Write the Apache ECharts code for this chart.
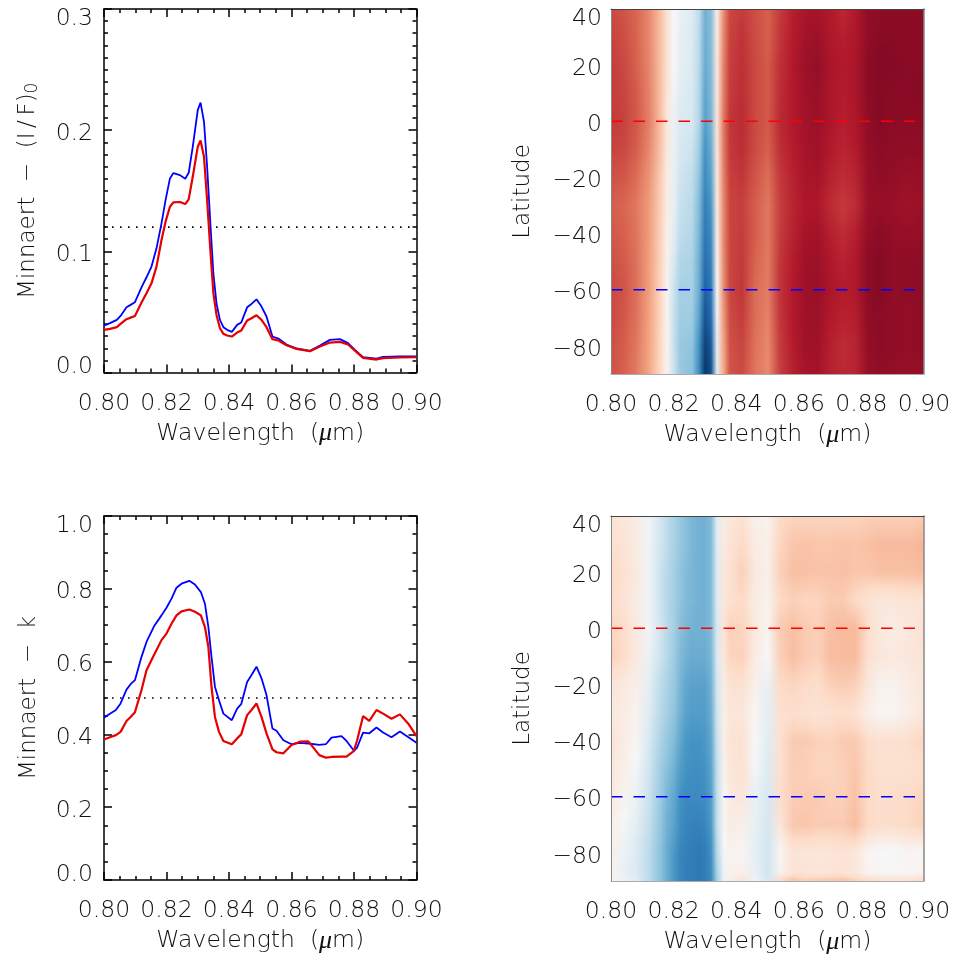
<!DOCTYPE html>
<html>
<head>
<meta charset="utf-8">
<title>Minnaert parameters</title>
<script src="https://cdn.jsdelivr.net/npm/echarts@6/dist/echarts.min.js"></script>
<style>
  html, body { margin: 0; padding: 0; background: #fff; }
  #chart { width: 954px; height: 956px; }
</style>
</head>
<body>
<div id="chart"></div>
<script>
// ---- tick labels
const wavelengthTicks = [0.80, 0.82, 0.84, 0.86, 0.88, 0.90];
const latitudeTicks = [-80, -60, -40, -20, 0, 20, 40];

// ---- line panel, top: (I/F)0 at latitude 0 (red) and -60 (blue)
const fluxWave = [.8000,.8019,.8041,.8053,.8072,.8085,.8099,.8120,.8136,.8152,.8168,.8184,.8197,.8211,.8222,.8243,.8260,.8271,.8284,.8300,.8309,.8320,.8330,.8341,.8350,.8360,.8371,.8382,.8394,.8409,.8426,.8439,.8458,.8472,.8488,.8504,.8520,.8539,.8558,.8584,.8616,.8659,.8691,.8723,.8755,.8781,.8803,.8829,.8872,.8893,.8947,.9000];
const fluxSouth = [.0387,.0407,.0434,.0467,.0538,.0558,.0580,.0703,.0786,.0874,.1025,.1231,.1423,.1602,.1646,.1629,.1599,.1648,.1863,.2165,.2228,.2069,.1698,.1203,.0819,.0571,.0434,.0374,.0352,.0335,.0393,.0412,.0538,.0566,.0604,.0544,.0462,.0297,.0280,.0231,.0198,.0179,.0223,.0269,.0275,.0242,.0187,.0126,.0115,.0129,.0132,.0132];
const fluxEquator = [.0352,.0360,.0374,.0401,.0440,.0453,.0467,.0577,.0654,.0736,.0874,.1093,.1245,.1368,.1404,.1407,.1390,.1429,.1615,.1863,.1915,.1780,.1423,.0984,.0654,.0475,.0365,.0319,.0305,.0297,.0330,.0346,.0429,.0448,.0473,.0434,.0374,.0275,.0264,.0225,.0195,.0176,.0214,.0247,.0253,.0231,.0181,.0121,.0107,.0118,.0124,.0126];
const fluxRefLevel = 0.12;

// ---- line panel, bottom: k at latitude 0 (red) and -60 (blue)
const kWave = [.8000,.8019,.8038,.8053,.8072,.8085,.8099,.8120,.8136,.8160,.8184,.8200,.8216,.8232,.8248,.8273,.8291,.8310,.8323,.8334,.8344,.8355,.8368,.8382,.8409,.8426,.8439,.8458,.8472,.8488,.8504,.8520,.8539,.8552,.8574,.8600,.8627,.8654,.8689,.8710,.8728,.8760,.8776,.8800,.8810,.8829,.8849,.8872,.8893,.8920,.8947,.8973,.9000];
const kSouth = [.446,.457,.467,.485,.523,.538,.549,.613,.654,.697,.727,.748,.773,.803,.814,.822,.812,.791,.759,.695,.613,.531,.494,.457,.439,.471,.483,.544,.563,.586,.554,.508,.416,.410,.384,.373,.377,.375,.371,.373,.391,.395,.382,.355,.364,.405,.403,.419,.405,.392,.408,.393,.377];
const kEquator = [.386,.392,.398,.407,.437,.448,.461,.522,.576,.618,.659,.677,.704,.727,.738,.743,.737,.727,.695,.640,.531,.448,.407,.382,.373,.389,.400,.453,.467,.485,.448,.403,.359,.351,.348,.371,.380,.381,.343,.336,.338,.339,.339,.355,.384,.450,.437,.467,.457,.443,.455,.430,.395];
const kRefLevel = 0.5;

// ---- map panels: values at these wavelengths / latitudes
const mapWave = [.800,.804,.808,.812,.816,.818,.820,.822,.824,.826,.828,.830,.832,.834,.836,.838,.842,.846,.850,.854,.858,.862,.866,.870,.874,.878,.882,.886,.890,.895,.900];
const mapLat = [40, 30, 20, 10, 0, -10, -20, -30, -40, -50, -60, -70, -80, -87, -90];

const fluxLat40 = [.040,.044,.050,.062,.085,.102,.120,.129,.132,.136,.150,.178,.172,.112,.062,.040,.036,.042,.048,.036,.026,.021,.020,.024,.029,.024,.013,.012,.012,.012,.012];
const fluxLat30 = [.038,.042,.049,.062,.085,.102,.120,.130,.133,.137,.152,.179,.172,.110,.060,.038,.033,.041,.048,.034,.025,.019,.017,.023,.026,.023,.013,.011,.011,.012,.012];
const fluxLat20 = [.036,.040,.048,.061,.085,.102,.121,.131,.134,.138,.153,.180,.173,.108,.058,.037,.032,.040,.046,.032,.024,.017,.015,.021,.024,.022,.012,.009,.010,.011,.011];
const fluxLat10 = [.036,.039,.046,.060,.085,.104,.124,.134,.137,.139,.154,.183,.174,.107,.057,.036,.031,.040,.046,.031,.024,.018,.016,.022,.025,.022,.012,.010,.011,.011,.010];
const fluxLat0 = [.035,.038,.045,.059,.085,.106,.128,.138,.139,.140,.156,.186,.176,.105,.055,.034,.030,.040,.046,.030,.024,.019,.017,.022,.026,.023,.013,.010,.012,.012,.012];
const fluxLatS10 = [.038,.040,.047,.062,.087,.107,.128,.140,.143,.146,.162,.192,.180,.106,.056,.035,.031,.041,.048,.032,.025,.020,.018,.024,.028,.025,.014,.012,.013,.013,.013];
const fluxLatS20 = [.043,.045,.052,.066,.090,.110,.130,.144,.147,.150,.168,.197,.185,.108,.058,.037,.034,.044,.053,.035,.027,.021,.020,.027,.031,.028,.015,.013,.014,.016,.015];
const fluxLatS30 = [.047,.050,.056,.069,.092,.111,.130,.147,.150,.153,.172,.203,.190,.110,.060,.039,.037,.047,.056,.037,.028,.023,.023,.030,.035,.031,.016,.015,.016,.018,.016];
const fluxLatS40 = [.045,.048,.055,.069,.093,.113,.134,.150,.153,.155,.175,.207,.196,.113,.060,.039,.036,.047,.056,.036,.027,.020,.019,.026,.031,.026,.014,.012,.014,.015,.014];
const fluxLatS50 = [.042,.046,.054,.070,.094,.114,.140,.155,.157,.158,.178,.212,.201,.116,.061,.039,.035,.049,.057,.034,.025,.018,.017,.023,.027,.024,.012,.010,.013,.013,.012];
const fluxLatS60 = [.040,.044,.053,.070,.095,.117,.147,.160,.160,.160,.180,.218,.207,.120,.062,.040,.034,.052,.058,.033,.024,.017,.016,.022,.025,.024,.012,.010,.013,.013,.012];
const fluxLatS70 = [.040,.045,.054,.071,.095,.116,.148,.162,.162,.163,.185,.225,.214,.125,.066,.041,.036,.052,.060,.034,.024,.018,.017,.024,.027,.026,.013,.012,.013,.014,.013];
const fluxLatS80 = [.042,.047,.056,.072,.096,.116,.148,.165,.167,.168,.192,.233,.222,.130,.070,.043,.039,.054,.062,.036,.025,.018,.018,.026,.031,.028,.014,.012,.013,.014,.013];
const fluxLatS87 = [.043,.048,.057,.073,.097,.116,.146,.165,.168,.170,.195,.236,.226,.132,.072,.044,.040,.055,.063,.037,.026,.020,.019,.027,.030,.028,.015,.013,.014,.015,.014];
const fluxLatS90 = [.043,.048,.057,.073,.097,.116,.146,.164,.168,.170,.195,.236,.226,.132,.072,.044,.040,.055,.062,.037,.026,.020,.019,.026,.029,.028,.015,.013,.014,.015,.014];
const fluxRows = [fluxLat40, fluxLat30, fluxLat20, fluxLat10, fluxLat0, fluxLatS10, fluxLatS20, fluxLatS30, fluxLatS40, fluxLatS50, fluxLatS60, fluxLatS70, fluxLatS80, fluxLatS87, fluxLatS90];

const kLat40 = [.43,.44,.46,.52,.60,.63,.66,.69,.71,.73,.74,.74,.72,.56,.46,.44,.42,.47,.48,.40,.39,.39,.39,.39,.39,.39,.38,.38,.38,.38,.37];
const kLat30 = [.42,.43,.46,.52,.60,.63,.66,.69,.71,.73,.74,.74,.72,.56,.45,.43,.40,.46,.47,.39,.36,.355,.36,.36,.355,.36,.35,.34,.34,.34,.33];
const kLat20 = [.40,.42,.45,.52,.61,.64,.67,.70,.72,.73,.74,.74,.72,.56,.44,.42,.38,.45,.47,.38,.35,.35,.355,.355,.35,.36,.36,.35,.35,.35,.34];
const kLat10 = [.41,.43,.46,.52,.61,.64,.67,.70,.72,.73,.74,.74,.72,.56,.44,.42,.40,.46,.48,.40,.38,.39,.39,.37,.37,.40,.43,.44,.44,.43,.43];
const kLat0 = [.39,.41,.45,.52,.60,.64,.67,.71,.73,.74,.74,.74,.72,.58,.43,.38,.39,.45,.485,.37,.35,.37,.38,.35,.34,.34,.41,.45,.46,.45,.42];
const kLatS10 = [.38,.41,.45,.53,.61,.64,.68,.72,.74,.75,.75,.75,.73,.57,.44,.39,.38,.46,.50,.38,.345,.37,.38,.345,.34,.34,.42,.44,.45,.44,.43];
const kLatS20 = [.43,.45,.47,.55,.63,.66,.69,.73,.76,.77,.77,.77,.74,.59,.46,.42,.42,.47,.54,.40,.39,.40,.41,.38,.37,.38,.44,.48,.48,.46,.44];
const kLatS30 = [.45,.46,.48,.56,.64,.67,.70,.74,.77,.78,.78,.78,.75,.60,.47,.44,.44,.49,.55,.42,.41,.42,.43,.42,.41,.42,.47,.49,.49,.47,.44];
const kLatS40 = [.43,.46,.49,.58,.66,.69,.72,.76,.79,.80,.80,.79,.76,.61,.47,.43,.42,.50,.56,.42,.37,.37,.38,.385,.37,.37,.41,.42,.42,.41,.39];
const kLatS50 = [.44,.47,.51,.60,.68,.71,.74,.78,.80,.81,.81,.80,.77,.62,.48,.44,.42,.51,.57,.42,.375,.38,.39,.39,.38,.36,.40,.42,.42,.42,.41];
const kLatS60 = [.45,.48,.53,.61,.69,.73,.76,.80,.82,.82,.82,.81,.78,.62,.49,.45,.44,.54,.58,.41,.375,.37,.37,.38,.38,.355,.40,.41,.41,.40,.39];
const kLatS70 = [.47,.51,.55,.62,.70,.74,.77,.81,.83,.84,.84,.83,.79,.62,.49,.46,.47,.54,.59,.44,.365,.36,.37,.37,.37,.345,.40,.41,.41,.40,.38];
const kLatS80 = [.47,.53,.57,.63,.71,.75,.79,.83,.84,.85,.86,.85,.81,.64,.51,.48,.49,.55,.60,.49,.43,.44,.44,.44,.43,.44,.49,.50,.51,.49,.50];
const kLatS87 = [.49,.54,.57,.63,.71,.75,.79,.83,.85,.85,.86,.85,.82,.66,.52,.48,.47,.54,.60,.48,.43,.43,.44,.43,.43,.44,.49,.49,.50,.49,.48];
const kLatS90 = [.47,.52,.56,.63,.71,.75,.79,.83,.85,.85,.86,.85,.82,.67,.52,.46,.43,.52,.58,.40,.35,.38,.36,.36,.35,.38,.40,.42,.42,.42,.40];
const kRows = [kLat40, kLat30, kLat20, kLat10, kLat0, kLatS10, kLatS20, kLatS30, kLatS40, kLatS50, kLatS60, kLatS70, kLatS80, kLatS87, kLatS90];

// latitudes marked on the maps
const markWave = [0.80, 0.8975];
const equatorLat = [0, 0];
const southLat = [-60, -60];

// diverging colour table, red (low) to blue (high)
const rdBu = [[103,0,31],[178,24,43],[214,96,77],[244,165,130],[253,219,199],[247,247,247],[209,229,240],[146,197,222],[67,147,195],[33,102,172],[5,48,97]];

function rampColor(v, lo, hi) {
    let t = Math.max(0, Math.min(0.9999, (v - lo) / (hi - lo))) * (rdBu.length - 1);
    let i = Math.floor(t), f = t - i;
    let c = rdBu[i].map((a, n) => Math.round(a + (rdBu[i + 1][n] - a) * f));
    return 'rgb(' + c.join(',') + ')';
}

const FONT = 'DejaVu Sans';
const textStyle = { fontFamily: FONT, fontWeight: 200, fontSize: 23.5, color: '#111' };

// rich styles keep tick labels a little below their tick, end labels inside the frame
const tickRich = {
    mid: Object.assign({}, textStyle, { padding: [7, 0, 0, 0] }),
    top: Object.assign({}, textStyle, { lineHeight: 16, padding: [4, 0, 0, 0] }),
    bot: Object.assign({}, textStyle, { lineHeight: 11 })
};

const grids = [
    { left: 104, top: 9, width: 312.5, height: 363.5 },
    { left: 611, top: 9, width: 313, height: 365 },
    { left: 104, top: 516, width: 312.5, height: 364 },
    { left: 611, top: 516, width: 313, height: 365 }
];

function wavelengthAxis(gridIndex, isMap) {
    return {
        type: 'value', gridIndex: gridIndex, min: 0.8, max: 0.9, interval: 0.02,
        position: 'bottom', z: 5,
        name: 'Wavelength  ({mu|μ}m)', nameLocation: 'middle', nameGap: 48,
        nameTextStyle: Object.assign({}, textStyle, { rich: { mu: Object.assign({}, textStyle, { fontFamily: 'Liberation Serif', fontWeight: 400, fontStyle: 'italic', fontSize: 26 }) } }),
        axisLine: { show: true, onZero: false, lineStyle: { color: isMap ? '#aaa' : '#000', width: isMap ? 1 : 1.5 } },
        axisTick: { show: !isMap, inside: true, length: 8, lineStyle: { color: '#000', width: 1.5 } },
        minorTick: { show: !isMap, splitNumber: 4, length: 4, lineStyle: { color: '#000', width: 1.5 } },
        splitLine: { show: false },
        axisLabel: Object.assign({}, textStyle, { margin: 19, hideOverlap: false, formatter: v => wavelengthTicks[Math.round((v - 0.8) / 0.02)].toFixed(2) })
    };
}

function topAxis(gridIndex, isMap) {
    return {
        type: 'value', gridIndex: gridIndex, min: 0.8, max: 0.9, interval: 0.02,
        position: 'top', z: 5,
        axisLine: { show: true, onZero: false, lineStyle: { color: isMap ? '#444' : '#000', width: isMap ? 1 : 1.5 } },
        axisTick: { show: !isMap, inside: true, length: 8, lineStyle: { color: '#000', width: 1.5 } },
        minorTick: { show: !isMap, splitNumber: 4, length: 4, lineStyle: { color: '#000', width: 1.5 } },
        splitLine: { show: false }, axisLabel: { show: false }
    };
}

function valueAxis(gridIndex, max, interval, minorSplit, name) {
    return {
        type: 'value', gridIndex: gridIndex, min: 0, max: max, interval: interval,
        position: 'left',
        name: name, nameLocation: 'middle', nameGap: 63, nameRotate: 90,
        nameTextStyle: Object.assign({}, textStyle, { fontSize: 23, rich: { sub: Object.assign({}, textStyle, { fontSize: 17, verticalAlign: 'bottom', padding: [8, 0, 0, 0] }) } }),
        axisLine: { show: true, onZero: false, lineStyle: { color: '#000', width: 1.5 } },
        axisTick: { show: true, inside: true, length: 8, lineStyle: { color: '#000', width: 1.5 } },
        minorTick: { show: true, splitNumber: minorSplit, length: 4, lineStyle: { color: '#000', width: 1.5 } },
        splitLine: { show: false },
        axisLabel: Object.assign({}, textStyle, {
            margin: 11, hideOverlap: false, verticalAlignMinLabel: 'bottom', verticalAlignMaxLabel: 'top',
            rich: tickRich,
            formatter: v => (v === 0 ? '{bot|' : v === max ? '{top|' : '{mid|') + v.toFixed(1) + '}'
        })
    };
}

function valueAxisRight(gridIndex, max, interval, minorSplit) {
    return {
        type: 'value', gridIndex: gridIndex, min: 0, max: max, interval: interval,
        position: 'right',
        axisLine: { show: true, onZero: false, lineStyle: { color: '#000', width: 1.5 } },
        axisTick: { show: true, inside: true, length: 8, lineStyle: { color: '#000', width: 1.5 } },
        minorTick: { show: true, splitNumber: minorSplit, length: 4, lineStyle: { color: '#000', width: 1.5 } },
        splitLine: { show: false }, axisLabel: { show: false }
    };
}

function latitudeAxis(gridIndex) {
    return {
        type: 'value', gridIndex: gridIndex, min: -90, max: 40, position: 'left', z: 5,
        name: 'Latitude', nameLocation: 'middle', nameGap: 76, nameRotate: 90,
        nameTextStyle: Object.assign({}, textStyle, { fontSize: 23 }),
        axisLine: { show: true, onZero: false, lineStyle: { color: '#888', width: 1 } },
        axisTick: { show: false }, splitLine: { show: false },
        axisLabel: Object.assign({}, textStyle, {
            margin: 9, hideOverlap: false, verticalAlignMaxLabel: 'top',
            customValues: latitudeTicks,
            rich: tickRich,
            formatter: v => (v === 40 ? '{top|' : '{mid|') + (v < 0 ? '\u2212' + Math.abs(v) : String(v)) + '}'
        })
    };
}

function latitudeAxisRight(gridIndex) {
    return {
        type: 'value', gridIndex: gridIndex, min: -90, max: 40, position: 'right', z: 5,
        axisLine: { show: true, onZero: false, lineStyle: { color: '#888', width: 1.5 } },
        axisTick: { show: false }, splitLine: { show: false }, axisLabel: { show: false }
    };
}

function lineSeries(axisIndex, xs, ys, color, width) {
    return {
        type: 'line', xAxisIndex: axisIndex, yAxisIndex: axisIndex, showSymbol: false, silent: true,
        data: xs.map((x, i) => [x, ys[i]]), lineStyle: { color: color, width: width }, z: 3
    };
}

function refSeries(axisIndex, level) {
    return {
        type: 'line', xAxisIndex: axisIndex, yAxisIndex: axisIndex, showSymbol: false, silent: true,
        data: [[0.8, level], [0.9, level]], lineStyle: { color: '#000', width: 1.6, type: [1.6, 6.4] }, z: 2
    };
}

function markSeries(axisIndex, lats, color) {
    return {
        type: 'line', xAxisIndex: axisIndex, yAxisIndex: axisIndex, showSymbol: false, silent: true,
        data: markWave.map((x, i) => [x, lats[i]]), lineStyle: { color: color, width: 1.5, type: [11.5, 11] }, z: 4
    };
}

function mapSeries(axisIndex, rows, lo, hi) {
    let cells = [];
    for (let j = 0; j < mapLat.length - 1; j++) {
        for (let i = 0; i < mapWave.length - 1; i++) {
            cells.push([mapWave[i], mapWave[i + 1], mapLat[j], mapLat[j + 1], rows[j][i], rows[j][i + 1], rows[j + 1][i], rows[j + 1][i + 1]]);
        }
    }
    return {
        type: 'custom', xAxisIndex: axisIndex, yAxisIndex: axisIndex, silent: true, clip: true,
        encode: { x: [0, 1], y: [2, 3] }, z: 1, progressive: 0,
        data: cells,
        renderItem: function (params, api) {
            let a = api.coord([api.value(0), api.value(2)]);
            let b = api.coord([api.value(1), api.value(3)]);
            // whole pixels only, so the strips leave no seams
            let xa = Math.round(a[0]), xb = Math.round(b[0]);
            let ya = Math.round(a[1]), yb = Math.round(b[1]);
            let children = [];
            for (let y = ya; y < yb; y += 2) {
                let h = Math.min(2, yb - y);
                let f = (y + h / 2 - a[1]) / (b[1] - a[1]);
                let vl = api.value(4) + (api.value(6) - api.value(4)) * f;
                let vr = api.value(5) + (api.value(7) - api.value(5)) * f;
                children.push({
                    type: 'rect',
                    shape: { x: xa, y: y, width: xb - xa, height: h },
                    style: {
                        fill: new echarts.graphic.LinearGradient(0, 0, 1, 0, [
                            { offset: 0, color: rampColor(vl, lo, hi) },
                            { offset: 1, color: rampColor(vr, lo, hi) }
                        ])
                    }
                });
            }
            return { type: 'group', children: children };
        }
    };
}

const chart = echarts.init(document.getElementById('chart'), null, { renderer: 'canvas' });
chart.setOption({
    animation: false,
    backgroundColor: '#fff',
    grid: grids,
    xAxis: [
        wavelengthAxis(0, false), wavelengthAxis(1, true), wavelengthAxis(2, false), wavelengthAxis(3, true),
        topAxis(0, false), topAxis(1, true), topAxis(2, false), topAxis(3, true)
    ],
    yAxis: [
        valueAxis(0, 0.3, 0.1, 10, 'Minnaert  \u2212  (I\u2009/\u2009F){sub|0}'),
        latitudeAxis(1),
        valueAxis(2, 1, 0.2, 4, 'Minnaert  \u2212  k'),
        latitudeAxis(3),
        valueAxisRight(0, 0.3, 0.1, 10), latitudeAxisRight(1),
        valueAxisRight(2, 1, 0.2, 4), latitudeAxisRight(3)
    ],
    series: [
        refSeries(0, fluxRefLevel),
        lineSeries(0, fluxWave, fluxSouth, '#0000ff', 1.8),
        lineSeries(0, fluxWave, fluxEquator, '#e60000', 2.2),
        mapSeries(1, fluxRows, 0, 0.24),
        markSeries(1, equatorLat, '#ff0000'),
        markSeries(1, southLat, '#0000ff'),
        refSeries(2, kRefLevel),
        lineSeries(2, kWave, kSouth, '#0000ff', 1.8),
        lineSeries(2, kWave, kEquator, '#e60000', 2.2),
        mapSeries(3, kRows, 0, 1),
        markSeries(3, equatorLat, '#ff0000'),
        markSeries(3, southLat, '#0000ff')
    ]
});
</script>
</body>
</html>
